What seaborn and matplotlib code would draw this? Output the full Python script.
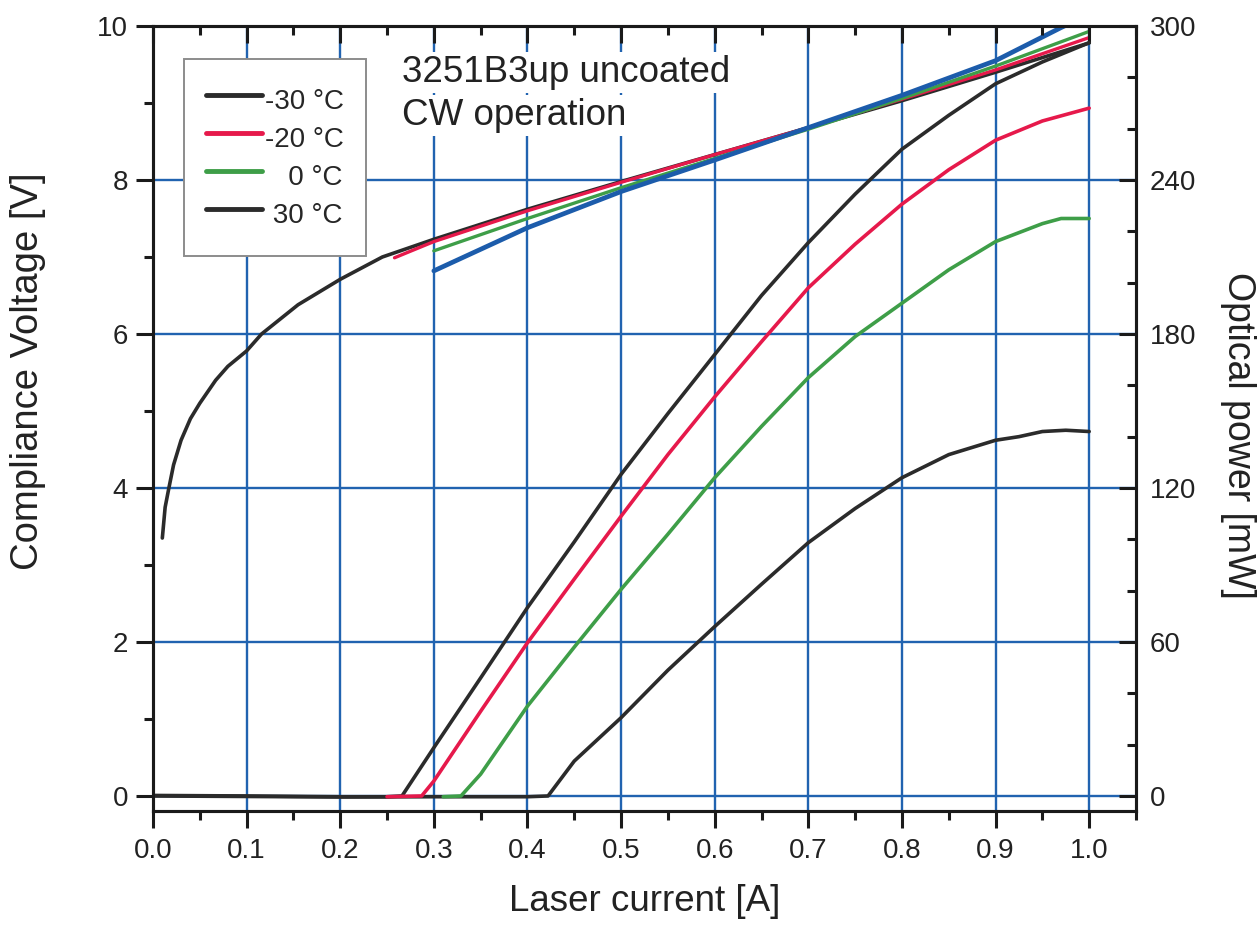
import numpy as np
import pandas as pd
import seaborn as sns
import matplotlib.pyplot as plt
from matplotlib.ticker import MultipleLocator, FormatStrFormatter


# compliance voltage [V] vs laser current [A]
cur_v_m30 = [0.01, 0.013, 0.017, 0.022, 0.03, 0.04, 0.05, 0.067, 0.08, 0.1, 0.116,
             0.155, 0.2, 0.245, 0.3, 0.4, 0.5, 0.6, 0.7, 0.8, 0.9, 1.0]
volt_m30 = [3.35, 3.75, 4.0, 4.3, 4.62, 4.9, 5.1, 5.4, 5.58, 5.78, 6.0,
            6.38, 6.71, 7.0, 7.23, 7.62, 7.98, 8.33, 8.68, 9.03, 9.40, 9.78]
cur_v_m20 = [0.258, 0.3, 0.4, 0.5, 0.6, 0.7, 0.8, 0.9, 1.0]
volt_m20 = [6.99, 7.2, 7.6, 7.97, 8.33, 8.68, 9.05, 9.43, 9.85]
cur_v_0 = [0.3, 0.4, 0.5, 0.6, 0.7, 0.8, 0.9, 1.0]
volt_0 = [7.08, 7.5, 7.9, 8.28, 8.66, 9.06, 9.48, 9.93]
cur_v_30 = [0.3, 0.4, 0.5, 0.6, 0.7, 0.8, 0.9, 0.97, 1.0]
volt_30 = [6.82, 7.38, 7.85, 8.26, 8.68, 9.1, 9.55, 9.98, 10.15]

# optical power [mW] vs laser current [A]
cur_p_m30 = [0.0, 0.1, 0.2, 0.25, 0.266, 0.3, 0.35, 0.4, 0.45, 0.5, 0.55, 0.6,
             0.65, 0.7, 0.75, 0.8, 0.85, 0.9, 0.95, 1.0]
pow_m30 = [0.2, 0.0, -0.3, -0.3, 0.0, 18.8, 46, 73.4, 99, 125.3, 149, 172,
           195, 215.6, 234.5, 252, 265.2, 277.5, 286, 293.5]
cur_p_m20 = [0.25, 0.287, 0.3, 0.35, 0.4, 0.45, 0.5, 0.55, 0.6, 0.65, 0.7,
             0.75, 0.8, 0.85, 0.9, 0.95, 1.0]
pow_m20 = [-0.3, 0.0, 5.8, 33, 59.7, 84.5, 109, 133, 155.5, 177, 198,
           215, 230.6, 244, 255.5, 263, 268]
cur_p_0 = [0.31, 0.329, 0.35, 0.4, 0.45, 0.5, 0.55, 0.6, 0.65, 0.7, 0.75,
           0.8, 0.85, 0.9, 0.95, 0.97, 1.0]
pow_0 = [-0.3, 0.0, 8.5, 35, 58, 80.5, 102, 124, 144, 163, 179,
         192, 205, 216, 223, 225, 225]
cur_p_30 = [0.0, 0.1, 0.2, 0.3, 0.4, 0.422, 0.45, 0.5, 0.55, 0.6, 0.65, 0.7,
            0.75, 0.8, 0.85, 0.9, 0.925, 0.95, 0.975, 1.0]
pow_30 = [0.0, -0.2, -0.4, -0.3, -0.3, 0.0, 13.6, 30.5, 49, 66, 82.5, 98.7,
          112, 124, 133, 138.6, 140, 142, 142.5, 142]

labels = ['-30 °C', '-20 °C', '   0 °C', ' 30 °C']

BLACK = '#2b2b2b'
RED = '#e6194b'
GREEN = '#3e9e48'
BLUE = '#1c5cab'
GRID = '#2163b0'

sns.set_theme(style='ticks')
plt.rcParams['font.family'] = ['Liberation Sans', 'DejaVu Sans']

fig = plt.figure(figsize=(12.59, 9.26), dpi=100)
ax = fig.add_axes([0.1215, 0.1238, 0.7808, 0.8481])
ax2 = ax.twinx()

# voltage curves (left axis)
volt_curves = [(cur_v_m30, volt_m30, BLACK, 2.6),
               (cur_v_m20, volt_m20, RED, 2.4),
               (cur_v_0, volt_0, GREEN, 2.4),
               (cur_v_30, volt_30, BLUE, 3.4)]
for xs, ys, col, lw in volt_curves:
    sns.lineplot(x=xs, y=ys, color=col, linewidth=lw, estimator=None,
                 sort=False, ax=ax)

# optical power curves (right axis)
pow_curves = [(cur_p_m30, pow_m30, BLACK, labels[0], 2),
              (cur_p_m20, pow_m20, RED, labels[1], 4),
              (cur_p_0, pow_0, GREEN, labels[2], 4),
              (cur_p_30, pow_30, BLACK, labels[3], 2)]
for xs, ys, col, lab, z in pow_curves:
    sns.lineplot(x=xs, y=ys, color=col, linewidth=2.6, estimator=None,
                 sort=False, label=lab, zorder=z, ax=ax2)

ax.set_xlim(0, 1.05)
ax.set_ylim(-0.2, 10)
ax2.set_ylim(-6, 300)

ax.xaxis.set_major_locator(MultipleLocator(0.1))
ax.xaxis.set_minor_locator(MultipleLocator(0.05))
ax.xaxis.set_major_formatter(FormatStrFormatter('%.1f'))
ax.yaxis.set_major_locator(MultipleLocator(2))
ax.yaxis.set_minor_locator(MultipleLocator(1))
ax2.yaxis.set_major_locator(MultipleLocator(60))
ax2.yaxis.set_minor_locator(MultipleLocator(20))

ax.grid(True, which='major', color=GRID, linewidth=1.7)
ax2.grid(False)

tick_col = '#1a1a1a'
ax.tick_params(axis='both', which='major', direction='out', length=12,
               width=2.2, labelsize=20, color=tick_col, labelcolor='#222222')
ax.tick_params(axis='both', which='minor', direction='out', length=6.5,
               width=2.2, color=tick_col)
ax.tick_params(axis='y', which='both', right=False, pad=6)
ax.tick_params(axis='x', which='both', top=False, pad=7)

ax2.xaxis.set_visible(True)
ax2.tick_params(axis='x', which='both', top=True, bottom=False,
                labeltop=False, labelbottom=False, direction='in',
                color=tick_col, width=2.2)
ax2.tick_params(axis='x', which='major', length=12)
ax2.tick_params(axis='x', which='minor', length=6.5)
ax2.tick_params(axis='y', which='major', direction='in', length=12,
                width=2.2, labelsize=20, pad=10, color=tick_col,
                labelcolor='#222222')
ax2.tick_params(axis='y', which='minor', direction='in', length=6.5,
                width=2.2, color=tick_col)

for a in (ax, ax2):
    for sp in a.spines.values():
        sp.set_visible(True)
        sp.set_linewidth(2.2)
        sp.set_color(tick_col)

ax.set_xlabel('Laser current [A]', fontsize=26.5, color='#222222')
ax.set_ylabel('Compliance Voltage [V]', fontsize=27.5, color='#222222')
ax.yaxis.set_label_coords(-0.109, 0.561)
ax2.set_ylabel('Optical power [mW]', fontsize=27, color='#222222',
               rotation=270, va='bottom')
ax2.yaxis.set_label_coords(1.085, 0.479)
ax.xaxis.set_label_coords(0.5, -0.093)

# annotation
box = dict(facecolor='white', edgecolor='none', pad=2)
ax.text(0.2536, 0.9289, '3251B3up uncoated', transform=ax.transAxes,
        fontsize=26.5, va='baseline', ha='left', color='#222222', bbox=box)
ax.text(0.2536, 0.874, 'CW operation', transform=ax.transAxes,
        fontsize=26.5, va='baseline', ha='left', color='#222222', bbox=box)

handles, labs = ax2.get_legend_handles_labels()
leg = ax2.legend(handles, labs, loc='upper left',
                 bbox_to_anchor=(0.0316, 0.958), borderaxespad=0,
                 fontsize=20, handlelength=2.0, handletextpad=0.12,
                 handleheight=1.73, borderpad=0.8, labelspacing=0.0,
                 fancybox=False, framealpha=1, edgecolor='#8c8c8c')
leg.get_frame().set_linewidth(1.4)
for line in leg.get_lines():
    line.set_linewidth(3.5)

fig.savefig('out.png', dpi=100)
